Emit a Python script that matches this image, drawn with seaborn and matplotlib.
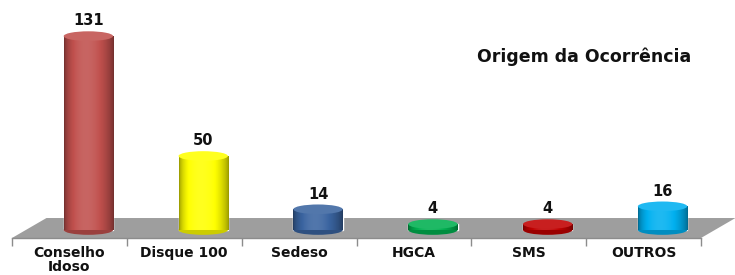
"""
Origem da Ocorrência — cylinder-style bar chart with a grey floor.
"""

import matplotlib
matplotlib.use('Agg')

import matplotlib.pyplot as plt
import numpy as np
import pandas as pd
import seaborn as sns
from matplotlib.colors import to_rgb
from matplotlib.patches import Ellipse, Polygon

categories = ['Conselho\nIdoso', 'Disque 100', 'Sedeso', 'HGCA', 'SMS', 'OUTROS']
values = [131, 50, 14, 4, 4, 16]
bar_colors = ['#C0504D', '#FFFF00', '#3A64A0', '#00B050', '#C00000', '#00B0F0']
title = 'Origem da Ocorrência'

FONT = ['DejaVu Sans']


def shade(color, f):
    r, g, b = to_rgb(color)
    if f >= 1:
        return tuple(c + (1 - c) * (f - 1) for c in (r, g, b))
    return tuple(c * f for c in (r, g, b))


def plot_origem(output='out.png'):
    df = pd.DataFrame({'origem': categories, 'total': values})

    sns.set_style('white')
    plt.rcParams['font.family'] = FONT

    fig = plt.figure(figsize=(7.35, 2.75), dpi=100)
    ax = fig.add_axes([12 / 735, 37 / 275, 689 / 735, 238 / 275])

    sns.barplot(data=df, x='origem', y='total', hue='origem',
                palette=bar_colors, width=0.43, legend=False,
                saturation=1, ax=ax, zorder=3)

    # grey floor (drawn in perspective)
    depth_x, back_y, front_y = 0.30, 8.1, -5.4
    floor = Polygon([(-0.5, front_y), (5.5, front_y), (5.5 + depth_x, back_y),
                     (-0.5 + depth_x, back_y)], closed=True,
                    facecolor='#9E9E9E', edgecolor='none', zorder=1,
                    clip_on=False)

    ell_h = 6.5
    shift = 0.165
    for patch, color, val in zip(list(ax.patches), bar_colors, values):
        patch.set_x(patch.get_x() + shift)
        x0, w = patch.get_x(), patch.get_width()
        cx = x0 + w / 2
        # horizontal gradient to give a cylinder look
        grad = np.linspace(0, 1, 64)
        prof = 0.6 + 0.52 * np.sin(np.pi * grad ** 0.85) ** 0.7
        img = np.array([[shade(color, p) for p in np.clip(prof, 0, 1.12)]])
        im = ax.imshow(img, extent=(x0, x0 + w, 0, val), aspect='auto',
                       zorder=4, interpolation='bilinear')
        im.set_clip_path(patch)
        # bottom and top caps
        ax.add_patch(Ellipse((cx, 0), w, ell_h, facecolor=shade(color, 0.8),
                             edgecolor='none', zorder=3.5))
        ax.add_patch(Ellipse((cx, val), w, ell_h, facecolor=shade(color, 1.12),
                             edgecolor='none', zorder=5))
        ax.text(cx, val + ell_h / 2 + 2, str(val), ha='center', va='bottom',
                fontsize=10.5, fontweight='bold', color='#111111', zorder=6)
    ax.add_patch(floor)
    ax.set_xlim(-0.5, 5.5)
    ax.set_ylim(-5.4, 155.4)

    ax.text(4.48, 117, title, ha='center', va='center', fontsize=12.5,
            fontweight='bold', color='#111111')

    for s in ['top', 'right', 'left']:
        ax.spines[s].set_visible(False)
    ax.spines['bottom'].set_color('#8C8C8C')
    ax.spines['bottom'].set_linewidth(1.0)
    ax.spines['bottom'].set_zorder(6)
    ax.set_yticks([])
    ax.set_xticks(range(len(categories)))
    ax.set_xticklabels(categories, fontsize=10, fontweight='bold',
                       color='#111111', linespacing=1.0)
    ax.set_xticks(np.arange(-0.5, 6, 1), minor=True)
    ax.tick_params(axis='x', which='major', length=0, pad=6)
    ax.tick_params(axis='x', which='minor', bottom=True, length=6, width=1,
                   color='#8C8C8C')
    ax.set_xlabel('')
    ax.set_ylabel('')

    fig.savefig(output, dpi=100)
    plt.close(fig)


if __name__ == '__main__':
    plot_origem()
